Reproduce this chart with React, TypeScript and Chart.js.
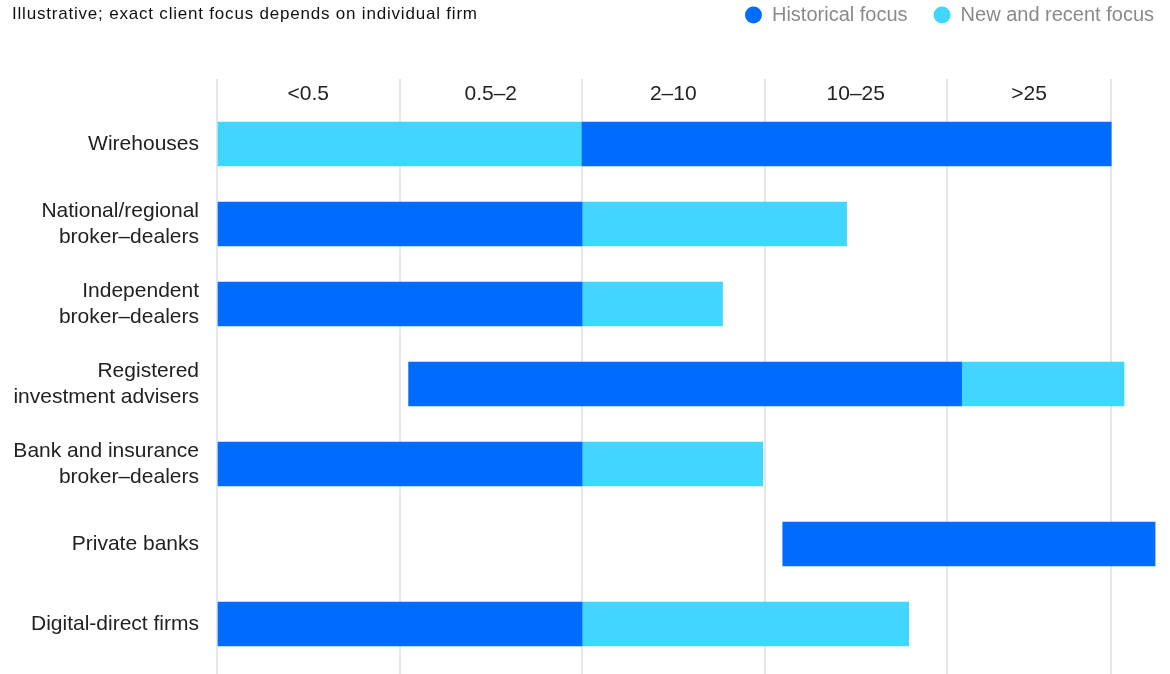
import { useEffect, useRef } from 'react';
import { Chart, registerables } from 'chart.js';

Chart.register(...registerables);

const TITLE = 'Illustrative; exact client focus depends on individual firm';

const ROW_LABELS: (string | string[])[] = [
  'Wirehouses',
  ['National/regional', 'broker–dealers'],
  ['Independent', 'broker–dealers'],
  ['Registered', 'investment advisers'],
  ['Bank and insurance', 'broker–dealers'],
  'Private banks',
  'Digital-direct firms',
];

// client asset columns (header labels) and their boundaries on the x scale
const COLUMN_LABELS = ['<0.5', '0.5–2', '2–10', '10–25', '>25'];
const COLUMN_BOUNDS = [0, 1, 2, 3, 4, 4.9];

const SERIES_NAMES = ['Historical focus', 'New and recent focus'];

const HISTORICAL: ([number, number] | null)[] = [
  [2, 4.9],
  [0, 2],
  [0, 2],
  [1.05, 4.08],
  [0, 2],
  [3.1, 5.14],
  [0, 2],
];

const NEW_RECENT: ([number, number] | null)[] = [
  [0, 2],
  [2, 3.45],
  [2, 2.77],
  [4.08, 4.97],
  [2, 2.99],
  null,
  [2, 3.79],
];

const COLORS = ['#006BFF', '#41D6FF'];
const FONT = "'Liberation Sans', Arial, sans-serif";

const headerPlugin = {
  id: 'columnHeaders',
  afterDraw(chart: any) {
    const { ctx, scales } = chart;
    const xs = scales.x;
    ctx.save();
    ctx.font = `21px ${FONT}`;
    ctx.fillStyle = '#222222';
    ctx.textAlign = 'center';
    ctx.textBaseline = 'middle';
    COLUMN_LABELS.forEach((lab, i) => {
      const mid = (COLUMN_BOUNDS[i] + COLUMN_BOUNDS[i + 1]) / 2;
      ctx.fillText(lab, xs.getPixelForValue(mid), chart.chartArea.top + 15);
    });
    ctx.restore();
  },
};

export default function App() {
  const ref = useRef<HTMLCanvasElement | null>(null);

  useEffect(() => {
    document.body.style.margin = '0';
    const toData = (arr: ([number, number] | null)[]) =>
      arr.map((v, i) => ({ x: v, y: i }));

    const chart = new Chart(ref.current as HTMLCanvasElement, {
      type: 'bar',
      data: {
        datasets: [
          {
            label: SERIES_NAMES[0],
            data: toData(HISTORICAL) as any,
            backgroundColor: COLORS[0],
            barThickness: 44,
            grouped: false,
            borderSkipped: false,
            borderWidth: 0,
          },
          {
            label: SERIES_NAMES[1],
            data: toData(NEW_RECENT) as any,
            backgroundColor: COLORS[1],
            barThickness: 44,
            grouped: false,
            borderSkipped: false,
            borderWidth: 0,
          },
        ],
      },
      options: {
        indexAxis: 'y',
        animation: false,
        responsive: false,
        maintainAspectRatio: false,
        layout: { padding: { top: -21, right: -10, left: 0, bottom: 0 } },
        plugins: {
          legend: {
            position: 'top',
            align: 'end',
            labels: {
              usePointStyle: true,
              pointStyle: 'circle',
              boxHeight: 12,
              pointStyleWidth: 17,
              padding: 26,
              color: '#8a8a8a',
              font: { family: FONT, size: 20 },
            },
          },
          tooltip: { enabled: false },
          title: { display: false },
        },
        scales: {
          x: {
            type: 'linear',
            position: 'top',
            min: 0,
            max: (1170 - 217) / 182.5,
            afterBuildTicks: (scale: any) => {
              scale.ticks = COLUMN_BOUNDS.map((v) => ({ value: v }));
            },
            afterFit: (scale: any) => {
              scale.height = 44;
              scale.paddingLeft = 0;
              scale.paddingRight = 0;
            },
            grid: {
              display: true,
              drawTicks: false,
              color: '#e6e6e6',
              lineWidth: 2,
            },
            border: { display: false },
            ticks: { display: false },
          },
          y: {
            type: 'linear',
            reverse: true,
            offset: false,
            min: -0.8125,
            max: 6.625,
            afterBuildTicks: (scale: any) => {
              scale.ticks = ROW_LABELS.map((_, i) => ({ value: i }));
            },
            afterFit: (scale: any) => {
              scale.width = 217;
              scale.paddingTop = 0;
              scale.paddingBottom = 0;
            },
            grid: { display: false, drawTicks: false, offset: false },
            border: { display: false },
            ticks: {
              padding: 18,
              color: '#222222',
              font: { family: FONT, size: 21, lineHeight: 26 / 21 },
              callback: (v: any) => ROW_LABELS[v as number] as any,
            },
          },
        },
      },
      plugins: [headerPlugin],
    });
    return () => chart.destroy();
  }, []);

  return (
    <div style={{ position: 'relative', width: 1170, height: 674 }}>
      <canvas ref={ref} width={1170} height={674} style={{ position: 'absolute', left: 0, top: 0 }} />
      <div
        style={{
          position: 'absolute',
          left: 12,
          top: 5,
          fontFamily: FONT,
          fontSize: 17,
          lineHeight: '17px',
          letterSpacing: '0.8px',
          color: '#111111',
          whiteSpace: 'nowrap',
        }}
      >
        {TITLE}
      </div>
    </div>
  );
}
